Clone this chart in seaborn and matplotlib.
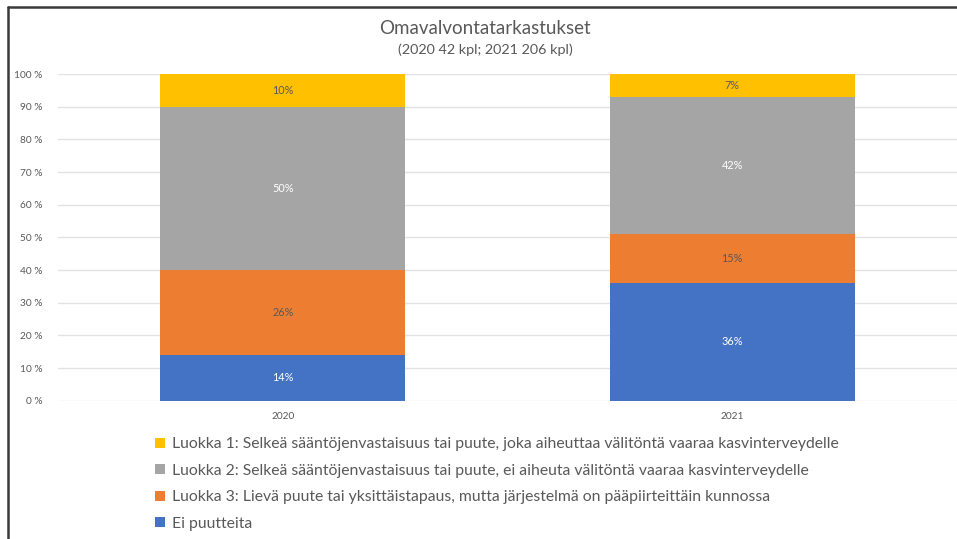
import pandas as pd
import matplotlib.pyplot as plt
import seaborn as sns
from matplotlib.lines import Line2D
from matplotlib.patches import Patch

# data (percent shares per year)
years = ["2020", "2021"]
ei_puutteita = [14, 36]
luokka3 = [26, 15]
luokka2 = [50, 42]
luokka1 = [10, 7]

series_names = [
    "Ei puutteita",
    "Luokka 3: Lievä puute tai yksittäistapaus, mutta järjestelmä on pääpiirteittäin kunnossa",
    "Luokka 2: Selkeä sääntöjenvastaisuus tai puute, ei aiheuta välitöntä vaaraa kasvinterveydelle",
    "Luokka 1: Selkeä sääntöjenvastaisuus tai puute, joka aiheuttaa välitöntä vaaraa kasvinterveydelle",
]
colors = ["#4472C4", "#ED7D31", "#A5A5A5", "#FFC000"]
label_colors = ["white", "#595959", "white", "#595959"]

df = pd.DataFrame({"Vuosi": years, "s0": ei_puutteita, "s1": luokka3,
                   "s2": luokka2, "s3": luokka1})
cols = ["s0", "s1", "s2", "s3"]
cum = df[cols].cumsum(axis=1)

sns.set_style("white")
plt.rcParams["font.family"] = ["Lato", "DejaVu Sans"]

fig = plt.figure(figsize=(9.57, 5.39), dpi=100)
ax = fig.add_axes([58 / 957, 1 - 400.7 / 539, 1 - 58 / 957, (400.7 - 74) / 539])

# stacked bars: draw cumulative totals from the top series down
for i in reversed(range(len(cols))):
    sns.barplot(data=cum.assign(Vuosi=years), x="Vuosi", y=cols[i], color=colors[i],
                width=0.545, saturation=1, ax=ax, zorder=2, linewidth=0)

# value labels in segment centres
for j in range(len(years)):
    base = 0
    for i, c in enumerate(cols):
        v = df[c][j]
        ax.text(j, base + v / 2, f"{v}%", ha="center", va="center",
                fontsize=7.8, color=label_colors[i], zorder=3)
        base += v

ax.set_xlim(-0.5, 1.5)
ax.set_ylim(0, 100)
ax.set_yticks(range(0, 101, 10))
ax.set_yticklabels([f"{t} %" for t in range(0, 101, 10)])
ax.yaxis.grid(True, color="#e3e3e3", linewidth=1, zorder=0)
ax.set_axisbelow(True)
for s in ax.spines.values():
    s.set_visible(False)
ax.set_xlabel("")
ax.set_ylabel("")
ax.tick_params(axis="both", length=0, labelsize=7.3, labelcolor="#595959")
ax.tick_params(axis="x", pad=8)
ax.tick_params(axis="y", pad=11)

fig.text(485 / 957, 1 - 28 / 539, "Omavalvontatarkastukset", ha="center",
         va="center", fontsize=13.5, color="#595959")
fig.text(485 / 957, 1 - 49.5 / 539, "(2020 42 kpl; 2021 206 kpl)", ha="center",
         va="center", fontsize=10.4, color="#595959")

handles = [Patch(facecolor=colors[i], edgecolor="none") for i in reversed(range(4))]
labels = list(reversed(series_names))
fig.legend(handles, labels, loc="upper left", bbox_to_anchor=(149 / 957, 1 - 431 / 539),
           frameon=False, fontsize=11.3, labelcolor="#595959", handlelength=0.6,
           handleheight=0.6, handletextpad=0.45, labelspacing=0.8, borderaxespad=0)

# frame lines at top and left edge
fig.add_artist(Line2D([8 / 957, 1], [1 - 7 / 539, 1 - 7 / 539], color="#3a3a3a", lw=1.8))
fig.add_artist(Line2D([8 / 957, 8 / 957], [0, 1 - 7 / 539], color="#3a3a3a", lw=1.8))

fig.savefig("out.png", dpi=100)
